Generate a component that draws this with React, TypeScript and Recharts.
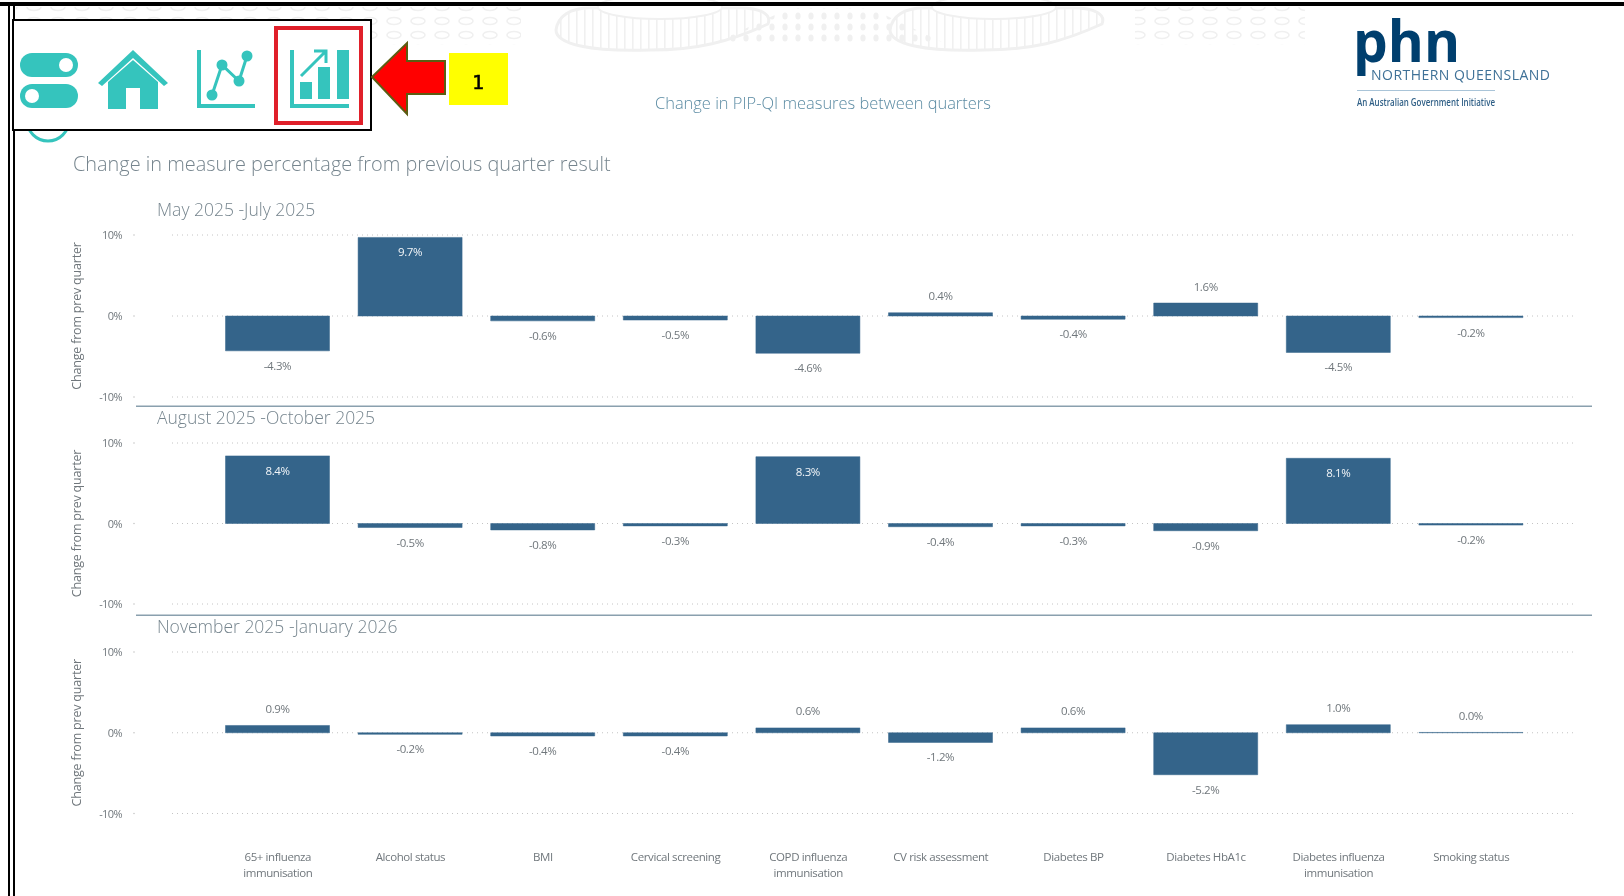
import React from "react";
import { BarChart, Bar, XAxis, YAxis, CartesianGrid, LabelList, Text } from "recharts";

const categories = [
  "65+ influenza immunisation",
  "Alcohol status",
  "BMI",
  "Cervical screening",
  "COPD influenza immunisation",
  "CV risk assessment",
  "Diabetes BP",
  "Diabetes HbA1c",
  "Diabetes influenza immunisation",
  "Smoking status",
];
const mayToJul = [-4.3, 9.7, -0.6, -0.5, -4.6, 0.4, -0.4, 1.6, -4.5, -0.2];
const augToOct = [8.4, -0.5, -0.8, -0.3, 8.3, -0.4, -0.3, -0.9, 8.1, -0.2];
const novToJan = [0.9, -0.2, -0.4, -0.4, 0.6, -1.2, 0.6, -5.2, 1.0, 0.04];
const yTicks = [-10, 0, 10];

const FONT = "'Open Sans', sans-serif";
const BAR = "#34648a";
const TEAL = "#35c4bd";
const GREY = "#70777c";
const TITLE = "#76858e";
const LEAF = "#f0f0f0";

const toRows = (values: number[]) =>
  categories.map((name, i) => ({ name, value: values[i] }));

const YTick = ({ x, y, payload }: any) => (
  <g>
    <text x={x - 50} y={y + 4} textAnchor="end" fontSize={11} fontFamily={FONT} fill={GREY} letterSpacing={-0.6}>
      {payload.value}%
    </text>
    <circle cx={x - 38} cy={y} r={0.7} fill="#bbb" />
  </g>
);

const XTick = ({ x, y, payload }: any) => (
  <Text
    x={x}
    y={y + 37}
    width={132}
    textAnchor="middle"
    verticalAnchor="start"
    fontSize={11.5}
    lineHeight={16}
    fontFamily={FONT}
    fill={GREY}
    letterSpacing={-0.4}
  >
    {payload.value}
  </Text>
);

// big bars carry the label inside in white, the rest sit outside the bar
const ValueLabel = ({ x, y, width, height, value }: any) => {
  const top = Math.min(y, y + height);
  const bottom = Math.max(y, y + height);
  const inside = value >= 8;
  const ly = inside ? top + 15 : value >= 0 ? top - 16.5 : bottom + 15;
  return (
    <text
      x={x + width / 2}
      y={ly}
      dy={4}
      textAnchor="middle"
      fontSize={11.5}
      fontFamily={FONT}
      letterSpacing={-0.4}
      fill={inside ? "#f2f5f8" : GREY}
    >
      {Number(value).toFixed(1)}%
    </text>
  );
};

const Panel = ({ values, top, height, showX }: { values: number[]; top: number; height: number; showX?: boolean }) => (
  <div style={{ position: "absolute", left: 0, top }}>
    <BarChart
      width={1624}
      height={height}
      data={toRows(values)}
      margin={{ top: 10, right: 47, left: 72, bottom: showX ? 0 : 10 }}
    >
      <CartesianGrid vertical={false} stroke="#c4c4c4" strokeDasharray="1 4" />
      <XAxis
        dataKey="name"
        hide={!showX}
        height={83}
        interval={0}
        axisLine={false}
        tickLine={false}
        tickSize={0}
        padding={{ left: 39.5, right: 39.5 }}
        tick={<XTick />}
      />
      <YAxis
        type="number"
        domain={[-10, 10]}
        ticks={yTicks}
        width={100}
        axisLine={false}
        tickLine={false}
        tickSize={0}
        tickMargin={0}
        tick={<YTick />}
        label={{
          value: "Change from prev quarter",
          angle: -90,
          position: "insideLeft",
          offset: 5,
          style: { textAnchor: "middle", fontSize: 12.5, fontFamily: FONT, fill: GREY, letterSpacing: -0.2 },
        }}
      />
      <Bar dataKey="value" fill={BAR} stroke={BAR} strokeWidth={0.5} barSize={104} isAnimationActive={false}>
        <LabelList dataKey="value" content={<ValueLabel />} />
      </Bar>
    </BarChart>
  </div>
);

const Title = ({ x, y, size, color, children }: any) => (
  <div
    style={{
      position: "absolute",
      left: x,
      top: y,
      fontSize: size,
      color,
      fontFamily: FONT,
      fontWeight: 300,
      whiteSpace: "nowrap",
      lineHeight: 1,
    }}
  >
    {children}
  </div>
);

const BOWL = "c2 -14 14 -22 34 -22 l150 0 c20 0 32 6 28 16 c-40 18 -70 26 -118 26 c-60 2 -94 -6 -94 -20 Z";

const Chrome = () => (
  <svg width={1624} height={896} style={{ position: "absolute", left: 0, top: 0 }}>
    <defs>
      <pattern id="hatch" width={8} height={20} patternUnits="userSpaceOnUse">
        <rect width={1.6} height={20} fill={LEAF} />
      </pattern>
      <pattern id="dots" width={13} height={11} patternUnits="userSpaceOnUse">
        <ellipse cx={5} cy={5} rx={2.6} ry={3.6} fill={LEAF} />
      </pattern>
      <pattern id="seeds" width={24} height={14} patternUnits="userSpaceOnUse">
        <ellipse cx={10} cy={7} rx={7} ry={3.5} fill="none" stroke={LEAF} strokeWidth={1.6} />
      </pattern>
    </defs>
    {/* faint leaf pattern along the top */}
    <rect x={16} y={7} width={505} height={38} fill="url(#seeds)" />
    <rect x={1135} y={7} width={170} height={38} fill="url(#seeds)" />
    <path d="M714 43 L790 8 L870 8 L944 43 Z" fill="url(#dots)" />
    <path d={`M556 30 ${BOWL}`} fill="url(#hatch)" stroke={LEAF} strokeWidth={3} />
    <path d={`M890 30 ${BOWL}`} fill="url(#hatch)" stroke={LEAF} strokeWidth={3} />
    <ellipse cx={660} cy={7} rx={62} ry={12} fill="#fff" stroke={LEAF} strokeWidth={2} />
    <ellipse cx={994} cy={7} rx={62} ry={12} fill="#fff" stroke={LEAF} strokeWidth={2} />
    {/* window edges */}
    <rect x={0} y={2} width={1624} height={4} fill="#000" />
    <rect x={8} y={2} width={2} height={894} fill="#000" />
    <rect x={13} y={2} width={2} height={894} fill="#000" />
    {/* nav strip */}
    <circle cx={48} cy={120} r={21} fill="none" stroke={TEAL} strokeWidth={3} />
    <rect x={13} y={20} width={358} height={110} fill="#fff" stroke="#000" strokeWidth={2} />
    <rect x={20} y={53} width={58} height={24} rx={12} fill={TEAL} />
    <circle cx={66} cy={65} r={7} fill="#fff" />
    <rect x={20} y={84} width={58} height={24} rx={12} fill={TEAL} />
    <circle cx={32} cy={96} r={7} fill="#fff" />
    <path d="M98 83 L133 50 L168 83 L164 86 L133 58 L102 86 Z" fill={TEAL} />
    <path d="M108 82 L133 60 L158 82 L158 109 L140 109 L140 88 L126 88 L126 109 L108 109 Z" fill={TEAL} />
    <path d="M199 50 V106 H255" fill="none" stroke={TEAL} strokeWidth={4} />
    <path d="M212 95 L222 65 L239 81 L247 56" fill="none" stroke={TEAL} strokeWidth={3} />
    <circle cx={212} cy={95} r={5.5} fill={TEAL} />
    <circle cx={222} cy={65} r={5.5} fill={TEAL} />
    <circle cx={239} cy={81} r={5.5} fill={TEAL} />
    <circle cx={247} cy={56} r={5.5} fill={TEAL} />
    <rect x={276} y={28} width={85} height={95} fill="none" stroke="#e0202a" strokeWidth={4} />
    <path d="M292 50 V106 H349" fill="none" stroke={TEAL} strokeWidth={4} />
    <rect x={300} y={82} width={12} height={17} fill={TEAL} />
    <rect x={318} y={67} width={12} height={32} fill={TEAL} />
    <rect x={337} y={50} width={12} height={49} fill={TEAL} />
    <path d="M301 76 L325 52 M314 51 H326 V63" fill="none" stroke={TEAL} strokeWidth={3} />
    {/* arrow and step marker */}
    <path d="M372 77 L407 43 V61 H445 V94 H407 V114 Z" fill="#f00" stroke="#5c5c12" strokeWidth={2} />
    <rect x={449} y={53} width={59} height={52} fill="#ff0" />
    <text x={478} y={89} textAnchor="middle" fontSize={20} fontFamily="'DejaVu Sans Mono', monospace" stroke="#000" strokeWidth={0.5} fill="#000">
      1
    </text>
    {/* logo */}
    <text x={1353} y={62} fontSize={58} fontWeight="bold" fontFamily={FONT} fill="#003f6e" textLength={107} lengthAdjust="spacingAndGlyphs">
      phn
    </text>
    <text x={1371} y={80} fontSize={14} fontFamily={FONT} fill="#3f7197" textLength={179}>
      NORTHERN QUEENSLAND
    </text>
    <rect x={1357} y={90} width={138} height={1} fill="#a9c4d8" />
    <text x={1357} y={106} fontSize={10} fontWeight="600" fontFamily={FONT} fill="#2f5f86" textLength={138} lengthAdjust="spacingAndGlyphs">
      An Australian Government Initiative
    </text>
    {/* panel dividers */}
    <rect x={136} y={405.5} width={1456} height={1.5} fill="#8aa0ae" />
    <rect x={136} y={614.5} width={1456} height={1.5} fill="#8aa0ae" />
  </svg>
);

export default function App() {
  return (
    <div
      style={{
        position: "fixed",
        left: 0,
        top: 0,
        width: 1624,
        height: 896,
        background: "#fff",
        overflow: "hidden",
        filter: "blur(0.4px)",
      }}
    >
      <Chrome />
      <Title x={655} y={95} size={16.45} color="#5b8ba3">Change in PIP-QI measures between quarters</Title>
      <Title x={73} y={154} size={19.9} color={TITLE}>Change in measure percentage from previous quarter result</Title>
      <Title x={157} y={201} size={17.5} color={TITLE}>May 2025 -July 2025</Title>
      <Title x={157} y={409} size={17.5} color={TITLE}>August 2025 -October 2025</Title>
      <Title x={157} y={618} size={17.5} color={TITLE}>November 2025 -January 2026</Title>
      <Panel values={mayToJul} top={225} height={182} />
      <Panel values={augToOct} top={433} height={181} />
      <Panel values={novToJan} top={641.5} height={254.5} showX />
    </div>
  );
}
